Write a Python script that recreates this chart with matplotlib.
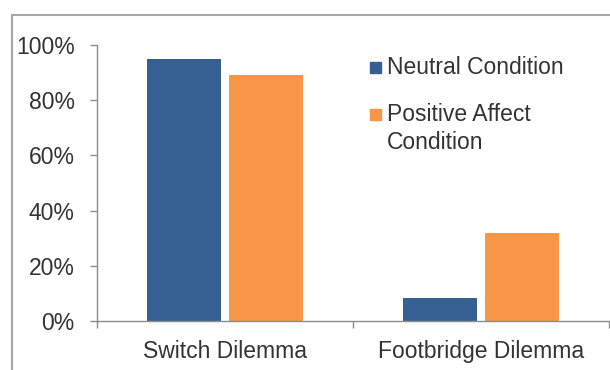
import matplotlib
matplotlib.use("Agg")
import matplotlib.pyplot as plt
import numpy as np
from matplotlib.lines import Line2D
from matplotlib.patches import Rectangle
from matplotlib.ticker import FixedLocator, PercentFormatter

categories = ["Switch Dilemma", "Footbridge Dilemma"]
series_names = ["Neutral Condition", "Positive Affect\nCondition"]
neutral = [0.95, 0.083]
positive = [0.89, 0.32]
colors = ["#365F92", "#F79646"]

W, H = 610, 370
plt.rcParams["font.family"] = ["Liberation Sans", "DejaVu Sans"]
text_color = "#333333"
axis_color = "#8C8C8C"
fs = 16.5

fig = plt.figure(figsize=(W / 100, H / 100), dpi=100)
ax = fig.add_axes([97 / W, 1 - 321 / H, (609 - 97) / W, (321 - 45) / H])

x = np.arange(len(categories))
width = 0.29
offset = 0.16
for vals, dx, color in zip([neutral, positive], [-offset, offset], colors):
    ax.bar(x + dx, vals, width, color=color, zorder=2)

ax.set_xlim(-0.5, len(categories) - 0.5)
ax.set_ylim(0, 1)
ax.set_yticks(np.linspace(0, 1, 6))
ax.yaxis.set_major_formatter(PercentFormatter(1.0, decimals=0))
ax.set_xticks(x)
ax.set_xticklabels(categories)
ax.xaxis.set_minor_locator(FixedLocator(np.arange(len(categories) + 1) - 0.5))

ax.tick_params(axis="x", which="major", length=0, pad=14, labelsize=fs, labelcolor=text_color)
ax.tick_params(axis="x", which="minor", length=5, direction="out", color=axis_color, width=1)
ax.tick_params(axis="y", length=5, direction="out", color=axis_color, width=1,
               pad=11, labelsize=fs, labelcolor=text_color)

for side in ["top", "right"]:
    ax.spines[side].set_visible(False)
for side in ["left", "bottom"]:
    ax.spines[side].set_color(axis_color)
    ax.spines[side].set_linewidth(1)
ax.patch.set_alpha(0)

# legend drawn by hand so the swatch sits on the first line of each label
leg_x = 370
leg_base = [74, 121]
line_gap = 28
for name, color, yb in zip(series_names, colors, leg_base):
    fig.add_artist(Rectangle((leg_x / W, 1 - (yb - 1) / H), 11 / W, 11 / H,
                             transform=fig.transFigure, color=color))
    for i, line in enumerate(name.split("\n")):
        fig.text(387 / W, 1 - (yb + i * line_gap) / H, line, fontsize=fs,
                 color=text_color, va="baseline", ha="left")

# outer chart border (runs off the right and bottom edge)
fig.add_artist(Line2D([12 / W, 12 / W], [0, 1 - 15 / H], transform=fig.transFigure,
                      color="#A6A6A6", lw=1.5))
fig.add_artist(Line2D([12 / W, 1], [1 - 15 / H, 1 - 15 / H], transform=fig.transFigure,
                      color="#A6A6A6", lw=1.5))

fig.savefig("out.png", dpi=100)
